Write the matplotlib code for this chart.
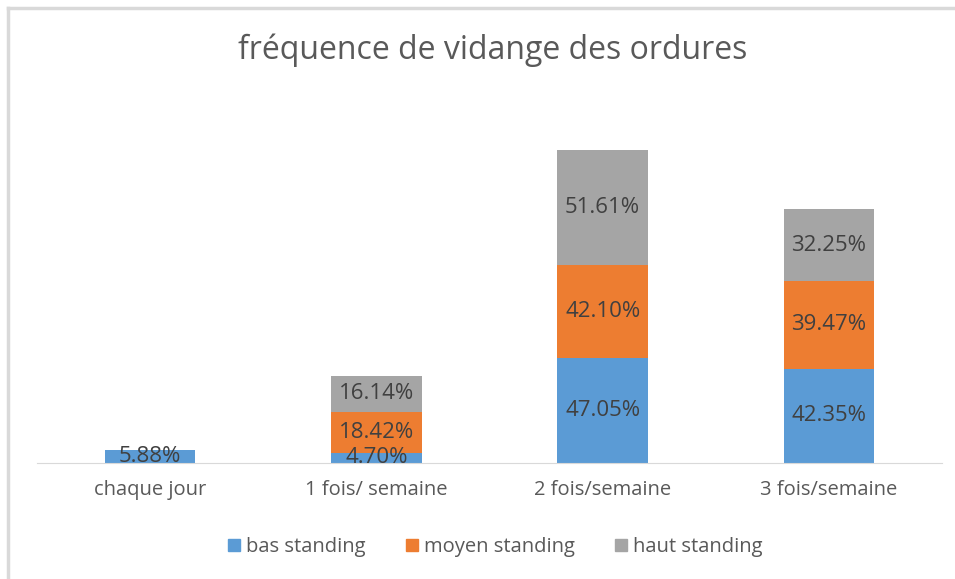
import matplotlib

matplotlib.use("Agg")

import matplotlib.pyplot as plt
import numpy as np
from matplotlib.lines import Line2D

categories = ["chaque jour", "1 fois/ semaine", "2 fois/semaine", "3 fois/semaine"]
series_names = ["bas standing", "moyen standing", "haut standing"]
bas = [5.88, 4.70, 47.05, 42.35]
moyen = [0.0, 18.42, 42.10, 39.47]
haut = [0.0, 16.14, 51.61, 32.25]
colors = ["#5B9BD5", "#ED7D31", "#A5A5A5"]

plt.rcParams["font.family"] = ["Open Sans", "DejaVu Sans"]

fig = plt.figure(figsize=(9.55, 5.79), dpi=100)
ax = fig.add_axes([37 / 955, (579 - 463) / 579, 905 / 955, 356 / 579])

x = np.arange(len(categories))
bottom = np.zeros(len(categories))
for name, vals, c in zip(series_names, [bas, moyen, haut], colors):
    vals = np.array(vals)
    bars = ax.bar(x, vals, width=0.4, bottom=bottom, color=c, label=name)
    labels = [f"{v:.2f}%" if v > 0 else "" for v in vals]
    ax.bar_label(bars, labels=labels, label_type="center", fontsize=16, color="#404040")
    bottom += vals

ax.set_xlim(-0.5, len(categories) - 0.5)
ax.set_ylim(0, 160)
ax.set_yticks([])
for s in ["top", "right", "left"]:
    ax.spines[s].set_visible(False)
ax.spines["bottom"].set_color("#D9D9D9")
ax.set_xticks(x)
ax.set_xticklabels(categories, fontsize=14.5, color="#595959")
ax.tick_params(axis="x", length=0, pad=12)

fig.text(493 / 955, 1 - 50 / 579, "fréquence de vidange des ordures",
         ha="center", va="center", fontsize=23, color="#595959")

handles = [plt.Rectangle((0, 0), 1, 1, color=c) for c in colors]
fig.legend(handles, series_names, loc="center", bbox_to_anchor=(495 / 955, 1 - 547 / 579),
           ncol=3, frameon=False, fontsize=14.5, labelcolor="#595959",
           handlelength=0.6, handleheight=0.6, handletextpad=0.3, columnspacing=2.0)

# chart frame (top and left edges visible)
fig.add_artist(Line2D([8 / 955, 1], [1 - 8 / 579] * 2, color="#D9D9D9", lw=2.5))
fig.add_artist(Line2D([8 / 955] * 2, [0, 1 - 8 / 579], color="#D9D9D9", lw=2.5))

fig.savefig("out.png", dpi=100)
